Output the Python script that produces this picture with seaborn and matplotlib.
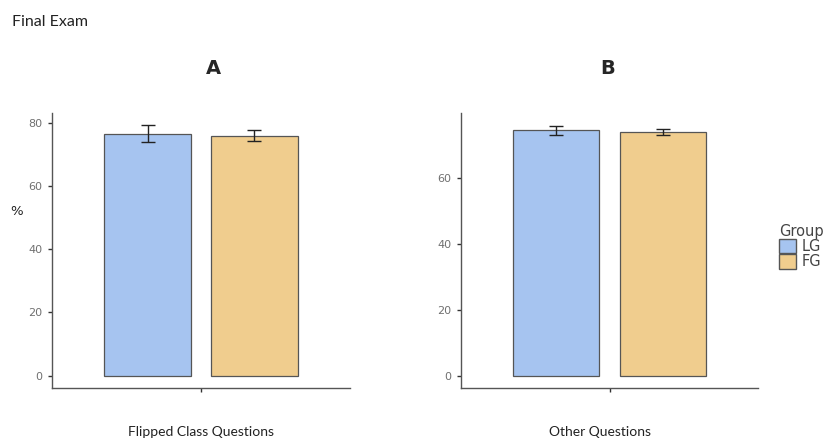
import numpy as np
import pandas as pd
import matplotlib
matplotlib.use('Agg')
import matplotlib.pyplot as plt
import seaborn as sns

# values (percent)
groups = ['LG', 'FG']
panels = ['Flipped Class Questions', 'Other Questions']
panel_titles = ['A', 'B']
means_a = [76.5, 75.9]
err_a = [2.6, 1.7]
means_b = [74.6, 73.9]
err_b = [1.4, 0.9]

colors = {'LG': '#A6C4F0', 'FG': '#F0CD8E'}

sns.set_style('white')
plt.rcParams['font.family'] = ['DejaVu Sans']

fig = plt.figure(figsize=(8.33, 4.41), dpi=100)
axA = fig.add_axes([52/833, 1-388/441, 298/833, 275/441])
axB = fig.add_axes([461/833, 1-388/441, 297/833, 275/441])

for ax, name, means, errs in [(axA, panels[0], means_a, err_a),
                               (axB, panels[1], means_b, err_b)]:
    df = pd.DataFrame({'q': [name]*2, 'group': groups, 'pct': means})
    sns.barplot(data=df, x='q', y='pct', hue='group', hue_order=groups,
                palette=colors, saturation=1, width=0.86, gap=0.19,
                errorbar=None, edgecolor='#555555', linewidth=0.9, ax=ax)
    # error bars at bar centres
    xs = [p.get_x() + p.get_width()/2 for p in ax.patches[:2]]
    ax.errorbar(xs, means, yerr=errs, fmt='none', ecolor='#222222',
                elinewidth=1.0, capsize=5, capthick=1.0)
    top = max(m + e for m, e in zip(means, errs))
    pad = top * 0.05
    ax.set_ylim(-pad, top + pad)
    ax.set_xlim(-0.6, 0.6)
    ax.set_yticks([t for t in [0, 20, 40, 60, 80] if t <= top + pad])
    ax.set_xticks([0])
    ax.set_xticklabels([''])
    ax.set_xlabel('')
    ax.set_ylabel('')
    ax.legend_.remove()
    sns.despine(ax=ax)
    for s in ['left', 'bottom']:
        ax.spines[s].set_color('#555555')
        ax.spines[s].set_linewidth(1.0)
    ax.tick_params(axis='both', bottom=True, left=True, length=3, width=1,
                   color='#333333', labelsize=8, labelcolor='#707070', pad=4)

# text outside the axes
fig.text(12/833, 1-22/441, 'Final Exam', fontsize=11.5, family='Lato',
         color='#222222', va='center', ha='left')
fig.text(213/833, 1-68/441, 'A', fontsize=14, fontweight='bold', ha='center', va='center')
fig.text(608/833, 1-68/441, 'B', fontsize=14, fontweight='bold', ha='center', va='center')
fig.text(17/833, 1-212/441, '%', fontsize=9.5, ha='center', va='center', color='#222222')
fig.text(201/833, 1-432/441, 'Flipped Class Questions', fontsize=10, family='Lato',
         ha='center', va='center', color='#222222')
fig.text(600/833, 1-432/441, 'Other Questions', fontsize=10, family='Lato',
         ha='center', va='center', color='#222222')

from matplotlib.patches import Patch
handles = [Patch(facecolor=colors[g], edgecolor='#555555', linewidth=1.0) for g in groups]
leg = fig.legend(handles, groups, title='Group', loc='upper left',
                 bbox_to_anchor=(779/833, 1-224/441), frameon=False,
                 fontsize=10.5, title_fontsize=10.5, handlelength=1.15,
                 handleheight=1.15, handletextpad=0.4, labelspacing=0.0,
                 borderaxespad=0, borderpad=0)
leg.get_title().set_color('#444444')
leg._legend_box.align = 'left'
for t in leg.get_texts():
    t.set_color('#444444')

fig.savefig('out.png', dpi=100)
